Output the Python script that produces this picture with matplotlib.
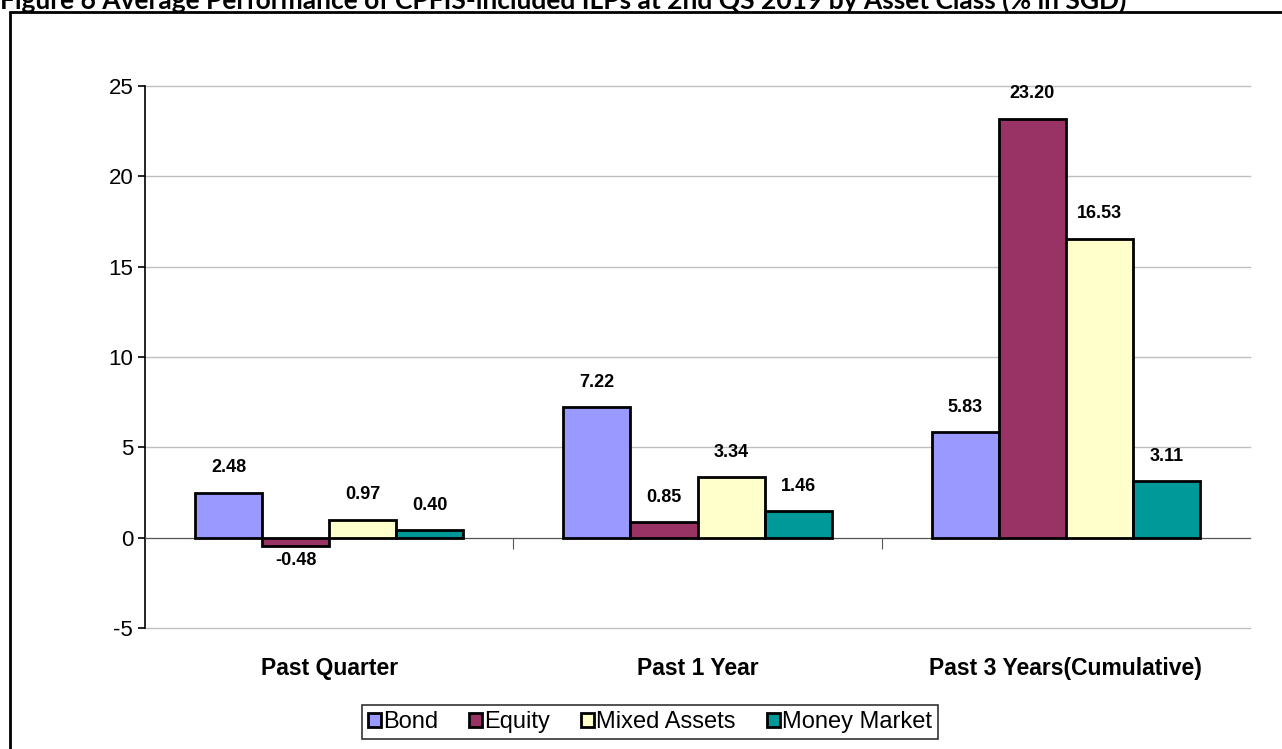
import matplotlib.pyplot as plt
import matplotlib.patches as mpatches
import numpy as np

plt.rcParams['font.family'] = ['Liberation Sans', 'DejaVu Sans']
plt.rcParams['axes.unicode_minus'] = False

# datos
categorias = ['Past Quarter', 'Past 1 Year', 'Past 3 Years(Cumulative)']
series = ['Bond', 'Equity', 'Mixed Assets', 'Money Market']
bond = [2.48, 7.22, 5.83]
equity = [-0.48, 0.85, 23.20]
mixed = [0.97, 3.34, 16.53]
money = [0.40, 1.46, 3.11]
valores = [bond, equity, mixed, money]
colores = ['#9999FF', '#993366', '#FFFFCC', '#009999']
yticks = [-5, 0, 5, 10, 15, 20, 25]
titulo = 'Figure 6 Average Performance of CPFIS-included ILPs at 2nd QS 2019 by Asset Class (% in SGD)'

fig = plt.figure(figsize=(12.82, 7.49), dpi=100)
ax = fig.add_axes([145/1282, 1-628/749, (1250-145)/1282, (628-86)/749])

x = np.arange(len(categorias))
w = 0.182
for i in range(len(series)):
    pos = x + (i - 1.5) * w
    barras = ax.bar(pos, valores[i], w, color=colores[i], edgecolor='black',
                    linewidth=2, label=series[i], zorder=3)
    for b, v in zip(barras, valores[i]):
        if v >= 0:
            ax.annotate('%.2f' % v, (b.get_x() + w/2, v), xytext=(0, 12),
                        textcoords='offset points', ha='center', va='bottom',
                        fontsize=13, fontweight='bold')
        else:
            ax.annotate('%.2f' % v, (b.get_x() + w/2, v), xytext=(0, -4),
                        textcoords='offset points', ha='center', va='top',
                        fontsize=13, fontweight='bold')

ax.set_xlim(-0.5, 2.5)
ax.set_ylim(-5, 25)
ax.set_yticks(yticks)
ax.yaxis.grid(True, color='#BFBFBF', linewidth=1, zorder=0)
for g in ax.get_ygridlines():
    g.set_clip_on(False)
ax.tick_params(axis='y', labelsize=16, length=5, width=1.2, direction='out')

# eje x en el cero
ax.spines['bottom'].set_position(('data', 0))
ax.spines['bottom'].set_color('#555555')
ax.spines['top'].set_visible(False)
ax.spines['right'].set_visible(False)
ax.spines['left'].set_linewidth(1.2)
ax.set_xticks([0.5, 1.5])
ax.set_xticklabels(['', ''])
ax.tick_params(axis='x', which='major', length=8, direction='out', color='#555555')
ax.set_xticks(x, minor=True)
ax.set_xticklabels(categorias, minor=True, fontsize=16.5, fontweight='bold')
ax.tick_params(axis='x', which='minor', length=0, pad=86)

handles = [mpatches.Patch(facecolor=colores[i], edgecolor='black', linewidth=2,
                          label=series[i]) for i in range(len(series))]
leg = fig.legend(handles=handles, loc='center', bbox_to_anchor=(650/1282, 1-722/749),
                 ncol=4, fontsize=17, frameon=True, fancybox=False, edgecolor='black',
                 handlelength=0.55, handleheight=0.55, handletextpad=0.1,
                 columnspacing=1.3, borderpad=0.25, borderaxespad=0)
leg.get_frame().set_linewidth(1.2)

# marco exterior
fig.patches.append(mpatches.Rectangle((10/1282, -0.05), 1.1, 1-12/749+0.05,
                   transform=fig.transFigure, fill=False, edgecolor='black',
                   linewidth=2))

fig.text(0, 1.0, titulo, ha='left', va='center', fontsize=19,
         fontweight='bold', family=['Lato', 'DejaVu Sans'])

fig.savefig('out.png', dpi=100)
